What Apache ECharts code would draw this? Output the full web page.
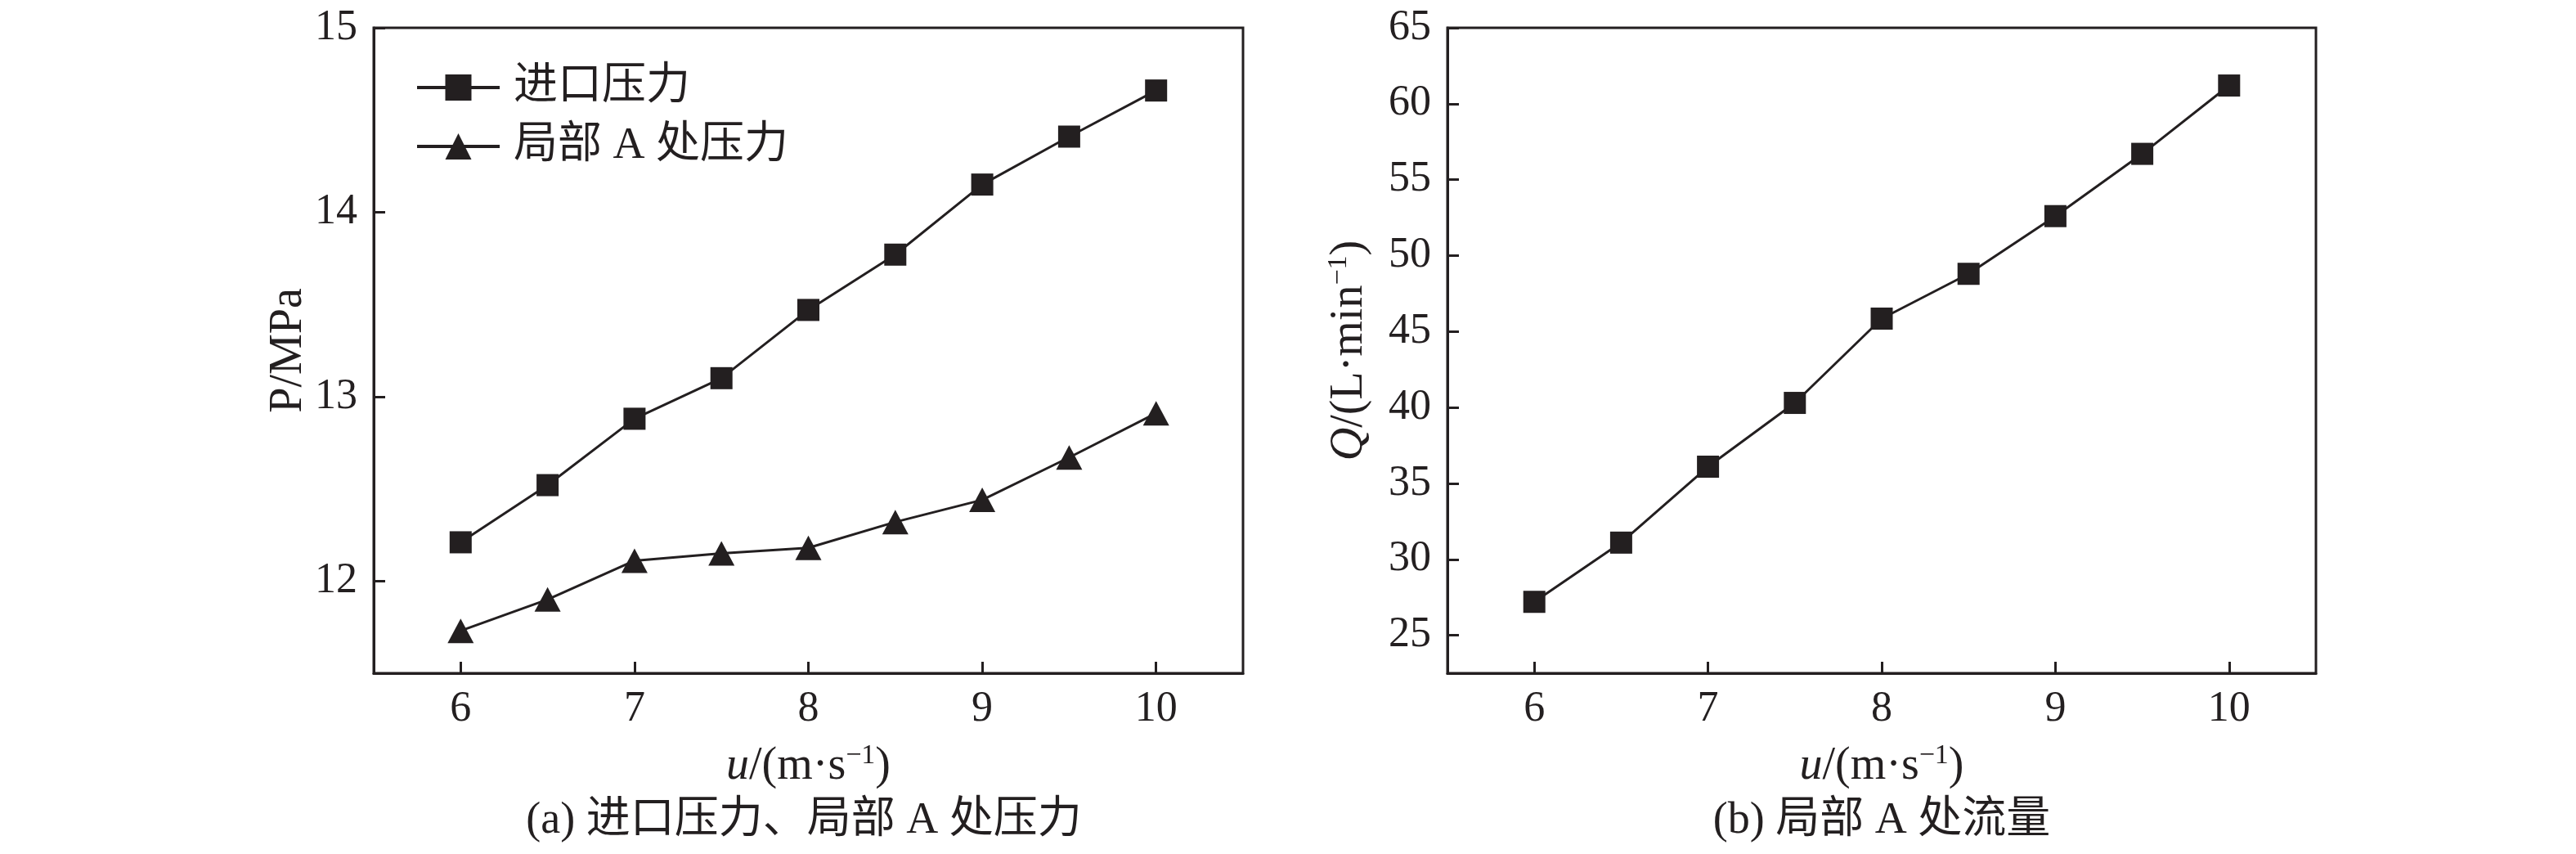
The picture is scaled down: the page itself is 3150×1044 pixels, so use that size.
<!DOCTYPE html>
<html><head><meta charset="utf-8">
<style>html,body{margin:0;padding:0;background:#fff}#c{width:3150px;height:1044px}</style>
<script src="https://cdn.jsdelivr.net/npm/echarts@6/dist/echarts.min.js"></script>
</head><body><div id="c"></div>
<script>
// ---- data ----
const velocity = [6, 6.5, 7, 7.5, 8, 8.5, 9, 9.5, 10];
const inletPressure = [12.21, 12.52, 12.88, 13.10, 13.47, 13.77, 14.15, 14.41, 14.66];
const localAPressure = [11.73, 11.90, 12.11, 12.15, 12.18, 12.32, 12.44, 12.67, 12.91];
const localAFlow = [27.2, 31.1, 36.1, 40.3, 45.85, 48.8, 52.6, 56.7, 61.2];
const xTicks = [6, 7, 8, 9, 10];
const pTicks = [12, 13, 14, 15];
const qTicks = [25, 30, 35, 40, 45, 50, 55, 60, 65];
const seriesNames = ['进口压力', '局部 A 处压力', '局部 A 处流量'];
const captions = ['(a) 进口压力、局部 A 处压力', '(b) 局部 A 处流量'];

const INK = '#231f20';
const FONT = '"Liberation Serif", "Noto Sans CJK SC", serif';
const pairs = (xs, ys) => xs.map((x, i) => [x, ys[i]]);

const nameStyle = {
  fontFamily: FONT, fontSize: 56, color: INK,
  rich: {
    i: { fontFamily: FONT, fontStyle: 'italic', fontSize: 56, color: INK, lineHeight: 60 },
    sup: { fontFamily: FONT, fontSize: 34, color: INK, verticalAlign: 'top', lineHeight: 32 }
  }
};

function xAxis(gi) {
  return {
    type: 'value', gridIndex: gi, min: 5.5, max: 10.5,
    name: '{i|u}/(m·s{sup|−1})', nameLocation: 'middle', nameGap: 84,
    nameTextStyle: nameStyle,
    axisLine: { show: true, lineStyle: { color: INK, width: 3 } },
    axisTick: { show: true, inside: true, length: 14, lineStyle: { color: INK, width: 3 }, customValues: xTicks },
    axisLabel: { fontFamily: FONT, fontSize: 52, color: INK, margin: 18, customValues: xTicks },
    splitLine: { show: false }
  };
}
function yAxis(gi, min, max, ticks, name, gap) {
  return {
    type: 'value', gridIndex: gi, min: min, max: max,
    name: name, nameLocation: 'middle', nameGap: gap,
    nameTextStyle: nameStyle,
    axisLine: { show: true, lineStyle: { color: INK, width: 3 } },
    axisTick: { show: true, inside: true, length: 14, lineStyle: { color: INK, width: 3 }, customValues: ticks },
    axisLabel: { fontFamily: FONT, fontSize: 52, color: INK, margin: 20, customValues: ticks },
    splitLine: { show: false }
  };
}

const chart = echarts.init(document.getElementById('c'), null, { renderer: 'canvas' });
chart.setOption({
  backgroundColor: '#fff',
  animation: false,
  grid: [
    { left: 457, top: 34, width: 1063, height: 789, show: true, borderColor: INK, borderWidth: 3, containLabel: false },
    { left: 1770, top: 34, width: 1062, height: 789, show: true, borderColor: INK, borderWidth: 3, containLabel: false }
  ],
  xAxis: [xAxis(0), xAxis(1)],
  yAxis: [
    yAxis(0, 11.5, 15, pTicks, 'P/MPa', 72),
    yAxis(1, 22.5, 65, qTicks, '{i|Q}/(L·min{sup|−1})', 90)
  ],
  legend: {
    data: [seriesNames[0], seriesNames[1]],
    orient: 'vertical', left: 503, top: 74,
    itemWidth: 101, itemHeight: 40, itemGap: 16,
    lineStyle: { width: 4, color: INK },
    itemStyle: { color: INK },
    textStyle: { fontFamily: FONT, fontSize: 54, lineHeight: 56, color: INK, padding: [0, 0, 0, 12] },
    inactiveColor: INK
  },
  graphic: [
    { type: 'text', x: 983, y: 1004, style: { text: captions[0], font: '54px ' + FONT, fill: INK, textAlign: 'center', textVerticalAlign: 'middle' } },
    { type: 'text', x: 2301, y: 1004, style: { text: captions[1], font: '54px ' + FONT, fill: INK, textAlign: 'center', textVerticalAlign: 'middle' } }
  ],
  series: [
    { name: seriesNames[0], type: 'line', xAxisIndex: 0, yAxisIndex: 0, data: pairs(velocity, inletPressure),
      symbol: 'rect', symbolSize: 27, showAllSymbol: true,
      lineStyle: { color: INK, width: 3 }, itemStyle: { color: INK } },
    { name: seriesNames[1], type: 'line', xAxisIndex: 0, yAxisIndex: 0, data: pairs(velocity, localAPressure),
      symbol: 'triangle', symbolSize: [32, 30], showAllSymbol: true,
      lineStyle: { color: INK, width: 3 }, itemStyle: { color: INK } },
    { name: seriesNames[2], type: 'line', xAxisIndex: 1, yAxisIndex: 1, data: pairs(velocity, localAFlow),
      symbol: 'rect', symbolSize: 27, showAllSymbol: true,
      lineStyle: { color: INK, width: 3 }, itemStyle: { color: INK } }
  ]
});
</script></body></html>
